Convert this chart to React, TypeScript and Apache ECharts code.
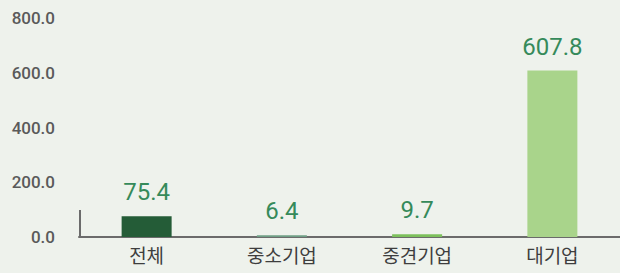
import React, { useEffect, useRef } from "react";
import * as echarts from "echarts";

const categories = ["전체", "중소기업", "중견기업", "대기업"];
const values = [75.4, 6.4, 9.7, 607.8];
const barColors = ["#245c37", "#6f9f86", "#7cc05c", "#a9d48b"];
const yTicks = { min: 0, max: 800, interval: 200 };

export default function App() {
  const ref = useRef<HTMLDivElement>(null);
  useEffect(() => {
    const chart = echarts.init(ref.current!, null, { renderer: "svg" });
    chart.setOption({
      animation: false,
      backgroundColor: "#eef2ec",
      textStyle: { fontFamily: "Roboto, 'Noto Sans CJK KR', sans-serif" },
      grid: { left: 79, right: 0, top: 18, bottom: 36 },
      xAxis: {
        type: "category",
        data: categories,
        axisLine: { show: true, lineStyle: { color: "#6b6b6b", width: 2 } },
        axisTick: { show: false },
        axisLabel: {
          color: "#3e3e3e",
          fontSize: 19,
          margin: 8,
          fontFamily: "'Noto Sans CJK KR', sans-serif",
        },
      },
      yAxis: {
        type: "value",
        min: yTicks.min,
        max: yTicks.max,
        interval: yTicks.interval,
        splitLine: { show: false },
        axisLine: { show: false },
        axisTick: { show: false },
        axisLabel: {
          color: "#5a5a5a",
          fontSize: 17,
          fontWeight: 500,
          margin: 24,
          formatter: (v: number) => v.toFixed(1),
        },
      },
      series: [
        {
          type: "bar",
          barWidth: 50,
          data: values.map((v, i) => ({ value: v, itemStyle: { color: barColors[i] } })),
          label: {
            show: true,
            position: "top",
            distance: 12,
            color: "#358a5a",
            fontSize: 24,
            formatter: (p: any) => p.value.toFixed(1),
          },
        },
      ],
      graphic: [
        {
          type: "line",
          shape: { x1: 80, y1: 210, x2: 80, y2: 237 },
          style: { stroke: "#6b6b6b", lineWidth: 2 },
        },
      ],
    });
    return () => chart.dispose();
  }, []);
  return (
    <div
      ref={ref}
      style={{ position: "fixed", left: 0, top: 0, width: 620, height: 273 }}
    />
  );
}
